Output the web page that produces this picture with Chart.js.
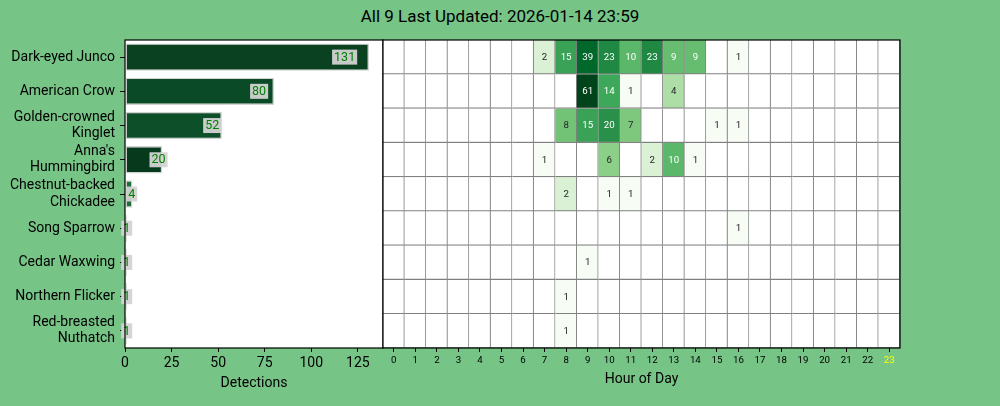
<!DOCTYPE html>
<html>
<head>
<meta charset="utf-8">
<script src="https://cdn.jsdelivr.net/npm/chart.js@4"></script>
<style>
  html, body { margin: 0; padding: 0; background: #77c487; }
  #wrap { position: relative; width: 1000px; height: 406px; overflow: hidden; }
  #title { position: absolute; left: 0; top: 6px; width: 1000px; text-align: center;
           font-family: Roboto; font-size: 17px; line-height: 20px; color: #000; }
  canvas { position: absolute; left: 0; top: 0; }
</style>
</head>
<body>
<div id="wrap">
  <div id="title">All 9 Last Updated: 2026-01-14 23:59</div>
  <canvas id="barChart" width="1000" height="406"></canvas>
  <canvas id="heatChart" width="1000" height="406"></canvas>
</div>
<script>
const hours = ['0', '1', '2', '3', '4', '5', '6', '7', '8', '9', '10', '11',
               '12', '13', '14', '15', '16', '17', '18', '19', '20', '21', '22', '23'];
const currentHour = '23';

const species = ['Dark-eyed Junco', 'American Crow', 'Golden-crowned Kinglet', "Anna's Hummingbird",
                 'Chestnut-backed Chickadee', 'Song Sparrow', 'Cedar Waxwing', 'Northern Flicker',
                 'Red-breasted Nuthatch'];
const totals = [131, 80, 52, 20, 4, 1, 1, 1, 1];

// detections per hour, 0..23
const juncoHours     = [0, 0, 0, 0, 0, 0, 0, 2, 15, 39, 23, 10, 23, 9, 9, 0, 1, 0, 0, 0, 0, 0, 0, 0];
const crowHours      = [0, 0, 0, 0, 0, 0, 0, 0, 0, 61, 14, 1, 0, 4, 0, 0, 0, 0, 0, 0, 0, 0, 0, 0];
const kingletHours   = [0, 0, 0, 0, 0, 0, 0, 0, 8, 15, 20, 7, 0, 0, 0, 1, 1, 0, 0, 0, 0, 0, 0, 0];
const annasHours     = [0, 0, 0, 0, 0, 0, 0, 1, 0, 0, 6, 0, 2, 10, 1, 0, 0, 0, 0, 0, 0, 0, 0, 0];
const chickadeeHours = [0, 0, 0, 0, 0, 0, 0, 0, 2, 0, 1, 1, 0, 0, 0, 0, 0, 0, 0, 0, 0, 0, 0, 0];
const sparrowHours   = [0, 0, 0, 0, 0, 0, 0, 0, 0, 0, 0, 0, 0, 0, 0, 0, 1, 0, 0, 0, 0, 0, 0, 0];
const waxwingHours   = [0, 0, 0, 0, 0, 0, 0, 0, 0, 1, 0, 0, 0, 0, 0, 0, 0, 0, 0, 0, 0, 0, 0, 0];
const flickerHours   = [0, 0, 0, 0, 0, 0, 0, 0, 1, 0, 0, 0, 0, 0, 0, 0, 0, 0, 0, 0, 0, 0, 0, 0];
const nuthatchHours  = [0, 0, 0, 0, 0, 0, 0, 0, 1, 0, 0, 0, 0, 0, 0, 0, 0, 0, 0, 0, 0, 0, 0, 0];
const hourlyCounts = [juncoHours, crowHours, kingletHours, annasHours, chickadeeHours,
                      sparrowHours, waxwingHours, flickerHours, nuthatchHours];

const barColors = ['#0a4221', '#0b4a26', '#0c4f29', '#073a1c', '#1c6c3c',
                   '#f2f8f0', '#f2f8f0', '#f2f8f0', '#f2f8f0'];

Chart.defaults.font.family = 'Roboto';
Chart.defaults.color = '#000';

// Greens colormap
const greens = ['#f7fcf5', '#e5f5e0', '#c7e9c0', '#a1d99b', '#74c476', '#41ab5d', '#238b45', '#006d2c', '#00441b'];
function hexToRgb(h) {
    return [1, 3, 5].map(i => parseInt(h.substr(i, 2), 16));
}
function greenAt(t) {
    t = Math.max(0, Math.min(1, t));
    let p = t * (greens.length - 1);
    let i = Math.min(Math.floor(p), greens.length - 2);
    let f = p - i;
    let a = hexToRgb(greens[i]), b = hexToRgb(greens[i + 1]);
    let c = a.map((v, k) => Math.round(v + (b[k] - v) * f));
    return 'rgb(' + c.join(',') + ')';
}
const maxCount = Math.max(...hourlyCounts.flat());
function cellColor(v) {
    if (!v) return '#ffffff';
    return greenAt(Math.log(v) / Math.log(maxCount));
}
function textColorFor(v) {
    let c = cellColor(v).match(/\d+/g).map(Number).map(x => {
        x /= 255;
        return x <= 0.03928 ? x / 12.92 : Math.pow((x + 0.055) / 1.055, 2.4);
    });
    let lum = 0.2126 * c[0] + 0.7152 * c[1] + 0.0722 * c[2];
    return lum > 0.408 ? '#262626' : '#ffffff';
}

function wrapName(name) {
    let lines = [], line = '';
    name.split(' ').forEach(word => {
        if (line && (line + ' ' + word).length > 16) { lines.push(line); line = word; }
        else line = line ? line + ' ' + word : word;
    });
    lines.push(line);
    return lines.length > 1 ? lines : lines[0];
}

const frame = {
    id: 'frame',
    beforeDatasetsDraw(chart) {
        let a = chart.chartArea, ctx = chart.ctx;
        ctx.save();
        ctx.fillStyle = '#ffffff';
        ctx.fillRect(a.left, a.top, a.right - a.left, a.bottom - a.top);
        ctx.restore();
    },
    afterDraw(chart) {
        let a = chart.chartArea, ctx = chart.ctx;
        ctx.save();
        ctx.strokeStyle = '#000';
        ctx.lineWidth = 1.2;
        ctx.strokeRect(a.left, a.top, a.right - a.left, a.bottom - a.top);
        ctx.restore();
    }
};

const barLabels = {
    id: 'barLabels',
    afterDatasetsDraw(chart) {
        let ctx = chart.ctx, xs = chart.scales.x;
        ctx.save();
        ctx.font = '12.5px Roboto';
        ctx.textAlign = 'center';
        ctx.textBaseline = 'middle';
        chart.getDatasetMeta(0).data.forEach((bar, i) => {
            let txt = String(totals[i]);
            let cx = xs.getPixelForValue(totals[i] * 0.9);
            let w = ctx.measureText(txt).width;
            ctx.fillStyle = 'rgba(211,211,211,0.95)';
            ctx.fillRect(cx - w / 2 - 2, bar.y - 7.5, w + 4, 15);
            ctx.fillStyle = '#008000';
            ctx.fillText(txt, cx, bar.y + 0.5);
        });
        ctx.restore();
    }
};

const cellText = {
    id: 'cellText',
    afterDatasetsDraw(chart) {
        let ctx = chart.ctx;
        ctx.save();
        ctx.font = '9.7px Roboto';
        ctx.textAlign = 'center';
        ctx.textBaseline = 'middle';
        chart.data.datasets.forEach((ds, r) => {
            chart.getDatasetMeta(r).data.forEach((cell, h) => {
                let v = hourlyCounts[r][h];
                if (!v) return;
                ctx.fillStyle = textColorFor(v);
                ctx.fillText(String(v), cell.x, (cell.y + cell.base) / 2 + 0.5);
            });
        });
        ctx.restore();
    }
};

new Chart(document.getElementById('barChart'), {
    type: 'bar',
    data: {
        labels: species.map(wrapName),
        datasets: [{
            data: totals,
            backgroundColor: barColors,
            borderColor: '#d3d3d3',
            borderWidth: 1.4,
            borderSkipped: false,
            barPercentage: 0.8,
            categoryPercentage: 1
        }]
    },
    options: {
        indexAxis: 'y',
        responsive: false,
        animation: false,
        layout: { padding: { left: 0, right: 617, top: 40, bottom: 0 } },
        plugins: { legend: { display: false }, tooltip: { enabled: false } },
        scales: {
            x: {
                min: 0,
                max: 138.5,
                ticks: { stepSize: 25, includeBounds: false, font: { size: 14 }, color: '#000', padding: 3, maxRotation: 0 },
                grid: { drawOnChartArea: false, color: '#000', tickLength: 4 },
                border: { display: false },
                title: { display: true, text: 'Detections', font: { size: 14 }, color: '#000', padding: { top: 0, bottom: 14 } },
                afterFit: s => { s.height = 58; }
            },
            y: {
                ticks: { font: { size: 14, lineHeight: 1.15 }, color: '#000', padding: 5, autoSkip: false },
                grid: { drawOnChartArea: false, color: '#000', tickLength: 5, offset: false },
                border: { display: false },
                afterFit: s => { s.width = 125; }
            }
        }
    },
    plugins: [frame, barLabels]
});

new Chart(document.getElementById('heatChart'), {
    type: 'bar',
    data: {
        labels: hours,
        datasets: species.map((name, r) => ({
            label: name,
            data: hours.map(() => [r, r + 1]),
            backgroundColor: hourlyCounts[r].map(cellColor),
            borderColor: '#808080',
            borderWidth: { top: 0, left: 0, right: 1.2, bottom: 1.2 },
            borderSkipped: false,
            barPercentage: 1,
            categoryPercentage: 1,
            grouped: false
        }))
    },
    options: {
        responsive: false,
        animation: false,
        layout: { padding: { left: 383, right: 100, top: 40, bottom: 0 } },
        plugins: { legend: { display: false }, tooltip: { enabled: false } },
        scales: {
            x: {
                ticks: {
                    font: { size: 9.7 },
                    color: c => hours[c.index] === currentHour ? '#ffff00' : '#000',
                    padding: 3, maxRotation: 0, autoSkip: false
                },
                grid: { drawOnChartArea: false, color: '#000', tickLength: 4, offset: false },
                border: { display: false },
                title: { display: true, text: 'Hour of Day', font: { size: 14 }, color: '#000', padding: { top: 0, bottom: 18 } },
                afterFit: s => { s.height = 58; }
            },
            y: { display: false, min: 0, max: 9, reverse: true }
        }
    },
    plugins: [frame, cellText]
});
</script>
</body>
</html>
